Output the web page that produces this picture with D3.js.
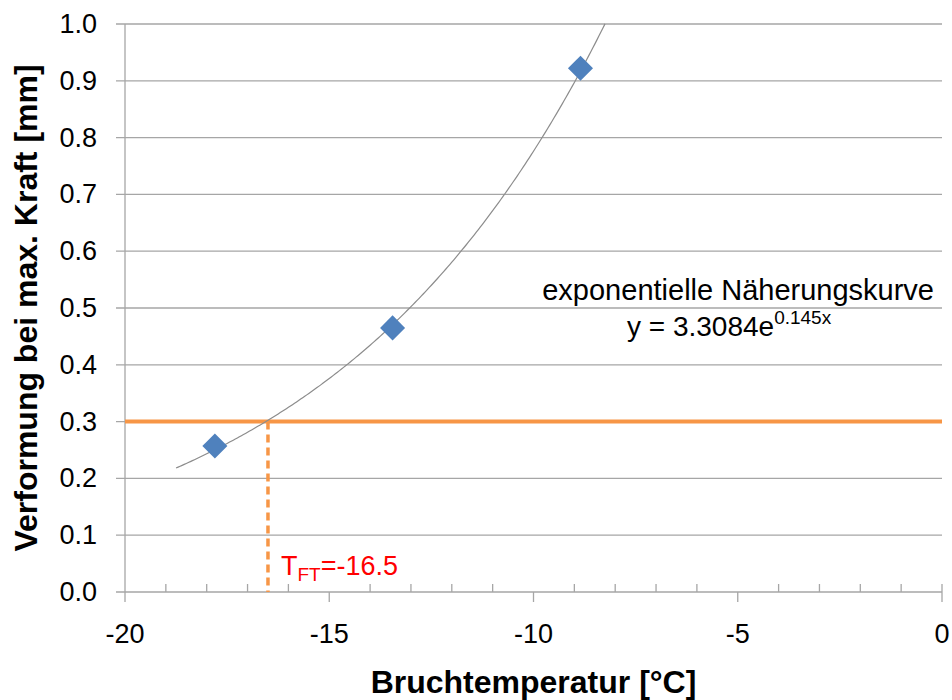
<!DOCTYPE html>
<html>
<head>
<meta charset="utf-8">
<script src="https://cdn.jsdelivr.net/npm/d3@7"></script>
<style>
  body { margin: 0; background: #fff; }
  svg text { font-family: "Liberation Sans", Arial, sans-serif; }
</style>
</head>
<body>
<div id="chart"></div>
<script>
// Messpunkte
var tempValues = [-17.8, -13.45, -8.85];
var deformValues = [0.257, 0.465, 0.922];

// Näherungskurve y = a * e^(b x)
var fitA = 3.3084, fitB = 0.145;
var fitRange = [-18.75, -8.25];

var xTicks = [-20, -15, -10, -5, 0];
var xMinorTicks = d3.range(-20, 1, 1);
var yTicks = [0, 0.1, 0.2, 0.3, 0.4, 0.5, 0.6, 0.7, 0.8, 0.9, 1.0];

var limitDeform = 0.3;
var limitTemp = -16.5;

var W = 952, H = 700;
var margin = { top: 24, right: 10, bottom: 108, left: 125 };

var svg = d3.select("#chart").append("svg")
    .attr("width", W)
    .attr("height", H);

var x = d3.scaleLinear().domain([-20, 0]).range([margin.left, 942]);
var y = d3.scaleLinear().domain([0, 1]).range([592, margin.top]);

var grid = "#a6a6a6";

// horizontale Gitterlinien
svg.append("g")
    .selectAll("line")
    .data(yTicks)
    .enter().append("line")
    .attr("x1", x(-20) - 9)
    .attr("x2", x(0))
    .attr("y1", d => y(d))
    .attr("y2", d => y(d))
    .style("stroke", grid)
    .style("stroke-width", 1.3);

// y Achse
svg.append("line")
    .attr("x1", x(-20)).attr("x2", x(-20))
    .attr("y1", y(1)).attr("y2", y(0))
    .style("stroke", grid).style("stroke-width", 1.3);

svg.append("g")
    .selectAll("text")
    .data(yTicks)
    .enter().append("text")
    .attr("x", 97)
    .attr("y", d => y(d) + 9)
    .attr("text-anchor", "end")
    .attr("font-size", "27px")
    .attr("fill", "#000")
    .text(d => d3.format(".1f")(d));

// x Achse mit Haupt- und Nebenstrichen
var xAxis = svg.append("g");
xAxis.selectAll(".minor")
    .data(xMinorTicks.filter(d => d % 5 !== 0))
    .enter().append("line")
    .attr("x1", d => x(d)).attr("x2", d => x(d))
    .attr("y1", y(0) - 8).attr("y2", y(0))
    .style("stroke", grid).style("stroke-width", 1.3);

xAxis.selectAll(".major")
    .data(xTicks)
    .enter().append("line")
    .attr("x1", d => x(d)).attr("x2", d => x(d))
    .attr("y1", d => d === 0 ? y(0) - 8 : y(0))
    .attr("y2", y(0) + 10)
    .style("stroke", grid).style("stroke-width", 1.3);

xAxis.selectAll("text")
    .data(xTicks)
    .enter().append("text")
    .attr("x", d => x(d))
    .attr("y", 643)
    .attr("text-anchor", "middle")
    .attr("font-size", "27px")
    .attr("fill", "#000")
    .text(d => d === 0 ? "0" : d3.format("d")(d).replace("−", "-"));

// Grenzlinie 0.3 mm
var orange = "#f79646";
svg.append("line")
    .attr("x1", x(-20)).attr("x2", x(0))
    .attr("y1", y(limitDeform)).attr("y2", y(limitDeform))
    .style("stroke", orange).style("stroke-width", 4);

svg.append("line")
    .attr("x1", x(limitTemp)).attr("x2", x(limitTemp))
    .attr("y1", y(limitDeform)).attr("y2", y(0))
    .style("stroke", orange).style("stroke-width", 3.5)
    .style("stroke-dasharray", "8,5");

// Näherungskurve
var curve = d3.range(fitRange[0], fitRange[1] + 0.001, 0.05).map(t => [t, fitA * Math.exp(fitB * t)]);
svg.append("path")
    .datum(curve)
    .attr("d", d3.line().x(d => x(d[0])).y(d => y(d[1])))
    .style("fill", "none")
    .style("stroke", "#8c8c8c")
    .style("stroke-width", 1.2);

// Messpunkte (Rauten)
svg.append("g")
    .selectAll("path")
    .data(tempValues)
    .enter().append("path")
    .attr("transform", (d, i) => "translate(" + x(d) + "," + y(deformValues[i]) + ")")
    .attr("d", d3.symbol().type(d3.symbolDiamond2).size(400))
    .attr("fill", "#4f81bd");

// Beschriftung Kurve
svg.append("text")
    .attr("x", 934).attr("y", 300)
    .attr("text-anchor", "end")
    .attr("font-size", "29px")
    .attr("fill", "#000")
    .text("exponentielle Näherungskurve");

var eq = svg.append("text")
    .attr("x", 627).attr("y", 336)
    .attr("font-size", "28px")
    .attr("fill", "#000");
eq.append("tspan").text("y = 3.3084e");
eq.append("tspan").attr("dy", -12).attr("font-size", "19px").text("0.145x");

// Beschriftung T_FT
var tft = svg.append("text")
    .attr("x", 281).attr("y", 575)
    .attr("font-size", "27px")
    .attr("fill", "#ff0000");
tft.append("tspan").text("T");
tft.append("tspan").attr("dy", 6).attr("font-size", "19px").text("FT");
tft.append("tspan").attr("dy", -6).text("=-16.5");

// Achsentitel
svg.append("text")
    .attr("x", x(-10)).attr("y", 693)
    .attr("text-anchor", "middle")
    .attr("font-size", "32px")
    .attr("font-weight", "bold")
    .attr("fill", "#000")
    .text("Bruchtemperatur [°C]");

svg.append("text")
    .attr("transform", "translate(37," + y(0.5) + ") rotate(-90)")
    .attr("text-anchor", "middle")
    .attr("font-size", "32px")
    .attr("font-weight", "bold")
    .attr("fill", "#000")
    .text("Verformung bei max. Kraft [mm]");
</script>
</body>
</html>
